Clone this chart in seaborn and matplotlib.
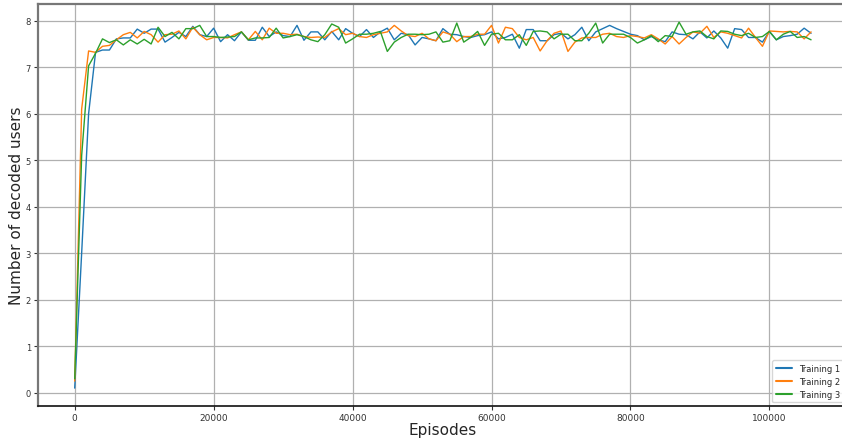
import numpy as np
import pandas as pd
import matplotlib
matplotlib.use("Agg")
import matplotlib.pyplot as plt
import seaborn as sns

episodes = list(range(0, 107000, 1000))

training_1 = [
    0.10, 3.00, 6.00, 7.32, 7.37, 7.37, 7.61, 7.63, 7.63, 7.82,
    7.73, 7.82, 7.82, 7.54, 7.64, 7.75, 7.66, 7.88, 7.70, 7.66,
    7.84, 7.55, 7.70, 7.57, 7.76, 7.58, 7.58, 7.86, 7.66, 7.76,
    7.68, 7.66, 7.90, 7.58, 7.76, 7.76, 7.59, 7.77, 7.59, 7.83,
    7.73, 7.66, 7.81, 7.64, 7.76, 7.84, 7.59, 7.73, 7.70, 7.48,
    7.64, 7.61, 7.57, 7.83, 7.71, 7.70, 7.66, 7.64, 7.68, 7.70,
    7.76, 7.61, 7.64, 7.71, 7.41, 7.81, 7.81, 7.57, 7.57, 7.70,
    7.73, 7.61, 7.70, 7.86, 7.57, 7.76, 7.83, 7.90, 7.83, 7.77,
    7.71, 7.68, 7.59, 7.66, 7.59, 7.55, 7.76, 7.71, 7.70, 7.61,
    7.76, 7.63, 7.78, 7.63, 7.41, 7.83, 7.81, 7.64, 7.64, 7.54,
    7.77, 7.59, 7.66, 7.68, 7.71, 7.84, 7.73,
]
training_2 = [
    0.25, 6.10, 7.35, 7.32, 7.45, 7.47, 7.59, 7.70, 7.75, 7.63,
    7.77, 7.70, 7.54, 7.70, 7.71, 7.78, 7.61, 7.86, 7.70, 7.59,
    7.64, 7.64, 7.63, 7.70, 7.76, 7.59, 7.77, 7.59, 7.84, 7.73,
    7.73, 7.70, 7.71, 7.66, 7.64, 7.65, 7.64, 7.76, 7.83, 7.70,
    7.73, 7.66, 7.64, 7.70, 7.73, 7.76, 7.90, 7.78, 7.68, 7.66,
    7.73, 7.61, 7.57, 7.76, 7.71, 7.55, 7.66, 7.66, 7.71, 7.71,
    7.90, 7.52, 7.86, 7.83, 7.64, 7.59, 7.64, 7.35, 7.57, 7.73,
    7.78, 7.34, 7.54, 7.63, 7.64, 7.64, 7.71, 7.73, 7.66, 7.64,
    7.68, 7.66, 7.63, 7.70, 7.61, 7.50, 7.66, 7.50, 7.64, 7.76,
    7.73, 7.88, 7.64, 7.76, 7.73, 7.68, 7.63, 7.84, 7.64, 7.45,
    7.78, 7.77, 7.76, 7.77, 7.76, 7.61, 7.76,
]
training_3 = [
    0.30, 5.10, 7.03, 7.30, 7.61, 7.53, 7.59, 7.48, 7.59, 7.50,
    7.60, 7.50, 7.86, 7.66, 7.75, 7.61, 7.83, 7.83, 7.90, 7.66,
    7.66, 7.64, 7.65, 7.66, 7.76, 7.59, 7.63, 7.63, 7.64, 7.84,
    7.63, 7.66, 7.70, 7.66, 7.59, 7.55, 7.70, 7.93, 7.86, 7.52,
    7.61, 7.71, 7.71, 7.73, 7.77, 7.34, 7.54, 7.64, 7.71, 7.71,
    7.70, 7.71, 7.76, 7.54, 7.57, 7.95, 7.54, 7.64, 7.77, 7.47,
    7.71, 7.73, 7.59, 7.59, 7.70, 7.47, 7.77, 7.78, 7.76, 7.61,
    7.71, 7.71, 7.57, 7.57, 7.73, 7.95, 7.52, 7.71, 7.71, 7.71,
    7.64, 7.52, 7.59, 7.68, 7.55, 7.68, 7.66, 7.97, 7.71, 7.76,
    7.78, 7.66, 7.61, 7.78, 7.77, 7.71, 7.68, 7.73, 7.64, 7.66,
    7.77, 7.59, 7.71, 7.77, 7.64, 7.66, 7.59,
]
series_names = ["Training 1", "Training 2", "Training 3"]

frames = []
for name, vals in zip(series_names, [training_1, training_2, training_3]):
    frames.append(pd.DataFrame({"Episodes": episodes, "value": vals, "series": name}))
df = pd.concat(frames, ignore_index=True)

sns.set_style("ticks")
fig = plt.figure(figsize=(8.42, 4.39), dpi=100)
ax = fig.add_axes([0.045, 0.072, 0.962, 0.917])

sns.lineplot(data=df, x="Episodes", y="value", hue="series",
             palette=["#1f77b4", "#ff7f0e", "#2ca02c"], linewidth=1.0, ax=ax)

ax.grid(True, color="#b0b0b0", linewidth=0.9)
ax.set_axisbelow(True)
ax.set_xlabel("Episodes", fontsize=11, labelpad=0)
ax.set_ylabel("Number of decoded users", fontsize=11, labelpad=1)
ax.tick_params(labelsize=6.5, length=3, width=0.8, colors="#333333", pad=2)
ax.tick_params(axis="y", labelsize=6, pad=2)
ax.set_xticks([0, 20000, 40000, 60000, 80000, 100000])
ax.set_yticks(range(0, 9))

for side in ["left", "top"]:
    ax.spines[side].set_color("#777777")
    ax.spines[side].set_linewidth(1.6)
ax.spines["bottom"].set_color("#111111")
ax.spines["bottom"].set_linewidth(1.2)
ax.spines["right"].set_visible(False)

leg = ax.legend(loc="lower right", fontsize=6, title=None, frameon=True,
                handlelength=2.0, borderaxespad=0.5)
for line in leg.get_lines():
    line.set_linewidth(1.5)

fig.savefig("out.png", dpi=100)
